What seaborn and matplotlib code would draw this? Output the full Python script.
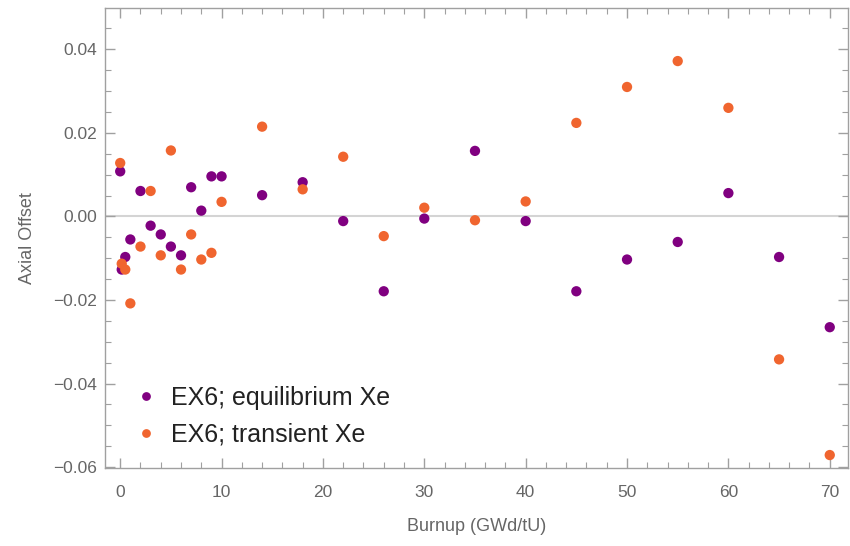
import numpy as np
import pandas as pd
import matplotlib
matplotlib.use("Agg")
import matplotlib.pyplot as plt
from matplotlib.ticker import MultipleLocator, FuncFormatter
import seaborn as sns

burnup = [0, 0.15, 0.5, 1, 2, 3, 4, 5, 6, 7, 8, 9, 10,
          14, 18, 22, 26, 30, 35, 40, 45, 50, 55, 60, 65, 70]
equilibrium = [0.0108, -0.0127, -0.0097, -0.0055, 0.0061, -0.0022, -0.0043, -0.0072,
               -0.0093, 0.0070, 0.0014, 0.0096, 0.0096,
               0.0051, 0.0082, -0.0011, -0.0179, -0.0005, 0.0157, -0.0011,
               -0.0179, -0.0103, -0.0061, 0.0056, -0.0097, -0.0265]
transient = [0.0128, -0.0113, -0.0127, -0.0208, -0.0072, 0.0061, -0.0093, 0.0158,
             -0.0127, -0.0043, -0.0103, -0.0087, 0.0035,
             0.0215, 0.0065, 0.0143, -0.0047, 0.0021, -0.0009, 0.0036,
             0.0224, 0.0310, 0.0372, 0.0260, -0.0342, -0.0571]
series_names = ["EX6; equilibrium Xe", "EX6; transient Xe"]
colors = ["#800080", "#F0652F"]

df = pd.concat([
    pd.DataFrame({"Burnup": burnup, "AO": equilibrium, "Series": series_names[0]}),
    pd.DataFrame({"Burnup": burnup, "AO": transient, "Series": series_names[1]}),
])

sns.set_style("white")
plt.rcParams["font.family"] = ["Liberation Sans", "DejaVu Sans"]

fig = plt.figure(figsize=(8.5, 5.46), dpi=100)
ax = fig.add_axes([105/850, 1-468/546, (848-105)/850, (468-8)/546])

ax.axhline(0, color="#d4d4d4", lw=1.5, zorder=0)

sns.scatterplot(data=df, x="Burnup", y="AO", hue="Series", palette=colors,
                s=55, edgecolor="none", marker="o", ax=ax, zorder=3)

ax.set_xlim(-1.5, 71.8)
ax.set_ylim(-0.0602, 0.0499)

frame_c = "#a0a0a0"
text_c = "#666666"
for sp in ax.spines.values():
    sp.set_color(frame_c)
    sp.set_linewidth(1.0)
    sp.set_visible(True)

ax.xaxis.set_major_locator(MultipleLocator(10))
ax.xaxis.set_minor_locator(MultipleLocator(2))
ax.yaxis.set_major_locator(MultipleLocator(0.02))
ax.yaxis.set_minor_locator(MultipleLocator(0.005))
ax.xaxis.set_major_formatter(FuncFormatter(lambda v, p: "%d" % round(v)))
ax.yaxis.set_major_formatter(FuncFormatter(
    lambda v, p: ("%.2f" % v).replace("-", "\u2212") if abs(v) > 1e-9 else "0.00"))
ax.tick_params(which="both", direction="in", top=True, right=True,
               bottom=True, left=True, color=frame_c, labelcolor=text_c,
               labelsize=12.5)
ax.tick_params(which="major", length=7, width=1.0)
ax.tick_params(which="minor", length=4, width=0.8)
ax.tick_params(axis="x", which="major", pad=12)
ax.tick_params(axis="y", which="major", pad=6)

ax.set_xlabel("Burnup (GWd/tU)", color=text_c, fontsize=13, labelpad=13)
ax.set_ylabel("Axial Offset", color=text_c, fontsize=13, labelpad=12)

handles, labels = ax.get_legend_handles_labels()
leg = ax.legend(handles=handles, labels=labels, loc="center left",
                bbox_to_anchor=(0.0075, 0.113), frameon=False, fontsize=18,
                handlelength=1.0, handletextpad=0.5, labelspacing=0.5,
                markerscale=0.85)
for t in leg.get_texts():
    t.set_color("#222222")

fig.savefig("out.png", dpi=100)
